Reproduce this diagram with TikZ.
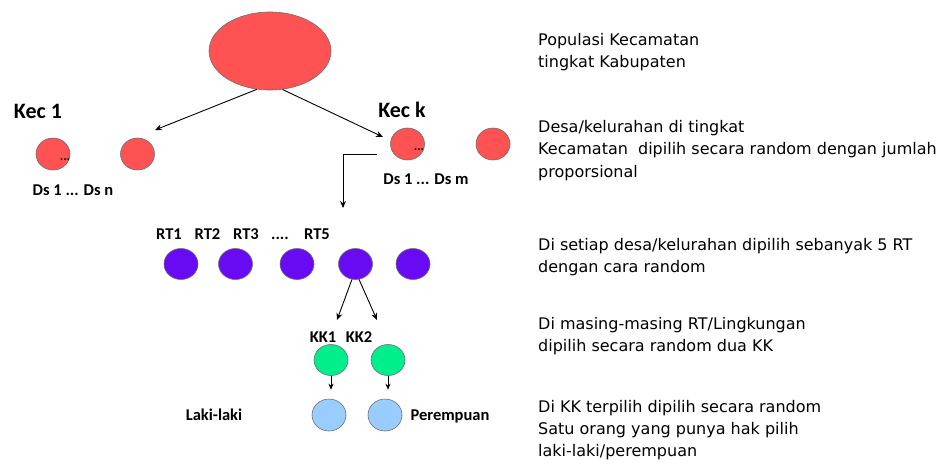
\documentclass[tikz,border=0pt]{standalone}
\usepackage{fontspec}
\usetikzlibrary{shapes.geometric,arrows.meta,calc}
\newfontfamily\verd{DejaVu Sans}
\newfontfamily\calib{Carlito}
\definecolor{redf}{RGB}{255,82,82}
\definecolor{purf}{RGB}{105,10,245}
\definecolor{grnf}{RGB}{0,238,140}
\definecolor{bluf}{RGB}{153,204,255}
\definecolor{rim}{RGB}{110,110,110}
\tikzset{
  dot/.style={ellipse,inner sep=0pt,draw=rim,line width=0.6pt,minimum width=34pt,minimum height=32pt},
  arr/.style={-{Stealth[length=7pt,width=6pt]},line width=0.9pt},
  sarr/.style={-{Stealth[length=6pt,width=5pt]},line width=0.9pt},
  lbl/.style={font=\calib\bfseries\fontsize{16.5}{18}\selectfont,inner sep=0pt,text height=10.6pt,text depth=0pt},
  ell/.style={font=\calib\bfseries\fontsize{13}{14}\selectfont,inner sep=0pt},
  big/.style={font=\calib\bfseries\fontsize{22}{24}\selectfont,inner sep=0pt},
  txt/.style={font=\verd\fontsize{16}{18}\selectfont,inner sep=0pt,anchor=base west}
}
\begin{document}
\begin{tikzpicture}[x=1pt,y=-1pt]
\useasboundingbox (0,0) rectangle (946,464);
% population
\node[dot,fill=redf,minimum width=122pt,minimum height=78pt] (pop) at (270,51) {};
% kecamatan / desa
\node[big] (kec1) at (38,111) {Kec 1};
\node[big] (keck) at (402,110) {Kec k};
\node[dot,fill=redf] (d1) at (53,154) {};
\node[dot,fill=redf] (d2) at (137.5,154) {};
\node[dot,fill=redf] (d3) at (407.5,144) {};
\node[dot,fill=redf] (d4) at (493,144) {};
\node[ell] (e1) at (65,160) {...};
\node[ell] (e2) at (419,150) {...};
\node[lbl] (dsn) at (73,190) {Ds 1 ... Ds n};
\node[lbl] (dsm) at (426,179) {Ds 1 ... Ds m};
\draw[arr] (pop.251) -- ($(d2.center)+(17.5,-24)$);
\draw[arr] (pop.288) -- ($(d3.center)+(-24.5,-7)$);
\coordinate (elS) at ($(d3.center)+(-30.5,10)$);
\coordinate (elE) at (343,208);
\draw[arr] (elS) -| (elE);
% RT
\node[lbl] (rt1) at (169,234) {RT1};
\node[lbl] (rt2) at (207.5,234) {RT2};
\node[lbl] (rt3) at (246,234) {RT3};
\node[lbl] (rtd) at (280,234) {....};
\node[lbl] (rt5) at (317,234) {RT5};
\foreach \n/\x in {r1/181,r2/235.5,r3/297,r4/355.5,r5/413}
  \node[dot,fill=purf,minimum height=31pt] (\n) at (\x,264) {};
% KK
\node[lbl] (kk1) at (323,337) {KK1};
\node[lbl] (kk2) at (359,337) {KK2};
\node[dot,fill=grnf,minimum height=31pt] (g1) at (331,360) {};
\node[dot,fill=grnf,minimum height=31pt] (g2) at (388,360) {};
\draw[arr] (r4.257) -- ($(g1.center)+(6,-40)$);
\draw[arr] (r4.283) -- ($(g2.center)+(-11,-40)$);
% persons
\node[dot,fill=bluf] (b1) at (329,415) {};
\node[dot,fill=bluf] (b2) at (385,415) {};
\node[lbl] (laki) at (214,415) {Laki-laki};
\node[lbl] (perem) at (450,415) {Perempuan};
\draw[sarr,shorten >=9pt] (g1.south) -- (g1.south |- b1.north);
\draw[sarr,shorten >=9pt] (g2.south) -- (g2.south |- b2.north);
% descriptions
\node[txt] (t1) at (538,45.5) {Populasi Kecamatan};
\node[txt] (t2) at (538,67.5) {tingkat Kabupaten};
\node[txt] (t3) at (538,132.5) {Desa/kelurahan di tingkat};
\node[txt] (t4) at (538,154.5) {Kecamatan\ \ dipilih secara random dengan jumlah};
\node[txt] (t5) at (538,177.5) {proporsional};
\node[txt] (t6) at (538,250.5) {Di setiap desa/kelurahan dipilih sebanyak 5 RT};
\node[txt] (t7) at (538,272.5) {dengan cara random};
\node[txt] (t8) at (538,329.5) {Di masing-masing RT/Lingkungan};
\node[txt] (t9) at (538,351.5) {dipilih secara random dua KK};
\node[txt] (t10) at (538,412.5) {Di KK terpilih dipilih secara random};
\node[txt] (t11) at (538,434.5) {Satu orang yang punya hak pilih};
\node[txt] (t12) at (538,456.5) {laki-laki/perempuan};
\end{tikzpicture}
\end{document}
